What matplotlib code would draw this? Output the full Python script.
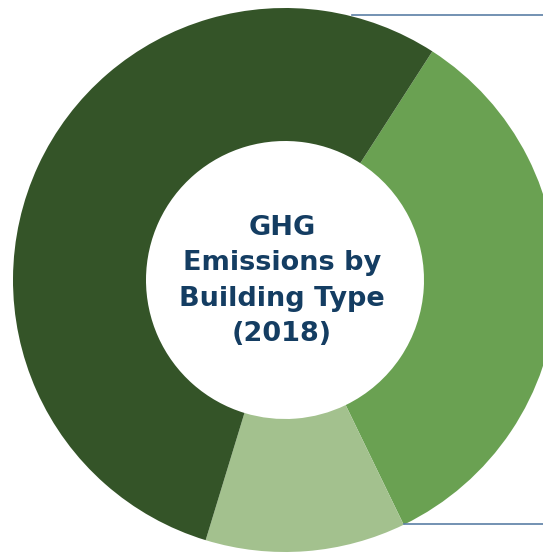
import matplotlib.pyplot as plt

# andelar per byggnadstyp (medurs från övre högra gränsen)
labels = ["Commercial", "Other", "Residential"]
shares = [33.7, 11.9, 54.4]
colors = ["#6aa152", "#a3c18e", "#345428"]
title_text = "GHG\nEmissions by\nBuilding Type\n(2018)"

fig = plt.figure(figsize=(5.43, 5.53), dpi=100)
ax = fig.add_axes([0, 0, 1, 1])

ax.pie(shares, colors=colors, startangle=57.2, counterclock=False,
       center=(285, 273), radius=272, frame=True,
       wedgeprops=dict(width=133, linewidth=0))
ax.set_xlim(0, 543)
ax.set_ylim(0, 553)
ax.axis("off")

# ledarlinjer som går ut ur bilden
ax.plot([352, 543], [538.5, 538.5], color="#5b7fa6", lw=1.2)
ax.plot([404, 543], [29, 29], color="#5b7fa6", lw=1.2)

ax.text(282, 272, title_text, ha="center", va="center", fontsize=19.5,
        fontweight="bold", color="#143d62", family="DejaVu Sans", linespacing=1.48)

fig.savefig("out.png", dpi=100)
